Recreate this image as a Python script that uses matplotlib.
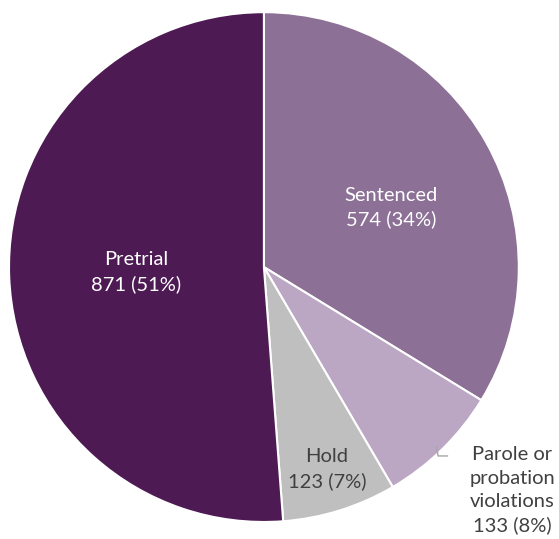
import numpy as np
import matplotlib.pyplot as plt

plt.rcParams['font.family'] = ['Lato', 'DejaVu Sans']

categories = ['Sentenced', 'Parole or\nprobation\nviolations', 'Hold', 'Pretrial']
counts = [574, 133, 123, 871]
percents = [34, 8, 7, 51]
colors = ['#8C7096', '#BBA6C4', '#BFBFBF', '#4D1A53']
text_colors = ['white', '#404040', '#404040', 'white']
label_r = [0.55, 1.31, 0.83, 0.50]
label_angle = [25, -42, None, None]

fig = plt.figure(figsize=(5.59, 5.39), dpi=100)
ax = fig.add_axes([0.0161, 0.0315, 0.912, 0.946])
wedges, _ = ax.pie(counts, colors=colors, startangle=90, counterclock=False,
                   wedgeprops=dict(edgecolor='white', linewidth=1.5))
ax.set_xlim(-1, 1)
ax.set_ylim(-1, 1)
ax.set_aspect('equal')
ax.axis('off')

for w, name, n, p, c, r, a in zip(wedges, categories, counts, percents,
                                  text_colors, label_r, label_angle):
    mid = np.deg2rad((w.theta1 + w.theta2) / 2 if a is None else a)
    x, y = r * np.cos(mid), r * np.sin(mid)
    ax.text(x, y, f'{name}\n{n} ({p}%)', ha='center', va='center', color=c,
            fontsize=14.5, linespacing=1.45, clip_on=False)

# short leader line for the outside label
ax.plot([0.678, 0.683, 0.72], [-0.706, -0.741, -0.741], color='#A6A6A6', lw=1,
        clip_on=False)

fig.savefig('out.png', dpi=100)
